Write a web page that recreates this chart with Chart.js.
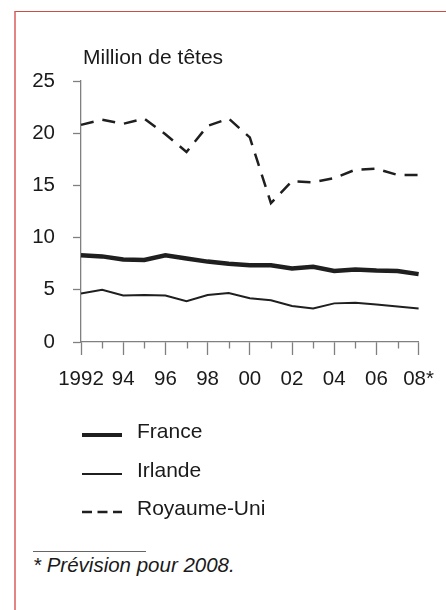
<!DOCTYPE html>
<html lang="fr">
<head>
  <meta charset="UTF-8" />
  <title>Cheptel ovin</title>
  <script src="https://cdn.jsdelivr.net/npm/chart.js"></script>
  <style>
    body {
      margin: 0;
      width: 446px;
      height: 610px;
      background: #fff;
      font-family: "Liberation Sans", Arial, sans-serif;
      position: relative;
      overflow: hidden;
    }
    #frame {
      position: absolute;
      left: 14px;
      top: 11px;
      width: 460px;
      height: 620px;
      border-top: 1.5px solid #cf4b45;
      border-left: 2px solid #e38585;
    }
    #chart-box {
      position: absolute;
      left: 0;
      top: 0;
      width: 446px;
      height: 540px;
    }
    #rule {
      position: absolute;
      left: 33px;
      top: 551px;
      width: 113px;
      border-top: 1px solid #666;
    }
    #note {
      position: absolute;
      left: 33px;
      top: 553px;
      font-size: 20.5px;
      line-height: 24px;
      font-style: italic;
      color: #1a1a1a;
    }
  </style>
</head>
<body>
  <div id="frame"></div>
  <div id="chart-box"><canvas id="sheepChart"></canvas></div>
  <div id="rule"></div>
  <div id="note">* Prévision pour 2008.</div>

  <script>
    // données (millions de têtes)
    const years = ['1992','1993','1994','1995','1996','1997','1998','1999','2000',
                   '2001','2002','2003','2004','2005','2006','2007','2008'];
    const tickLabels = ['1992','','94','','96','','98','','00','','02','','04','','06','','08*'];
    const france = [8.3, 8.2, 7.9, 7.85, 8.3, 8.0, 7.7, 7.5, 7.35, 7.35, 7.05, 7.2, 6.8, 6.95, 6.85, 6.8, 6.5];
    const irlande = [4.65, 5.0, 4.45, 4.5, 4.45, 3.9, 4.5, 4.7, 4.2, 4.0, 3.45, 3.2, 3.7, 3.75, 3.6, 3.4, 3.2];
    const royaumeUni = [20.8, 21.3, 20.9, 21.4, 19.9, 18.2, 20.7, 21.4, 19.6, 13.3, 15.4, 15.3, 15.7, 16.5, 16.6, 16.0, 16.0];

    const ink = '#1f1f1f';
    const axisGrey = '#808080';
    const font = '"Liberation Sans", Arial, sans-serif';

    // titre d'axe, petites graduations et légende
    const extras = {
      id: 'extras',
      afterDraw(chart) {
        const ctx = chart.ctx;
        const area = chart.chartArea;
        const xs = chart.scales.x;
        ctx.save();
        ctx.fillStyle = '#1a1a1a';
        ctx.font = '21px ' + font;
        ctx.textBaseline = 'alphabetic';
        ctx.fillText('Million de têtes', area.left + 2, 64);

        // graduations des années impaires
        ctx.strokeStyle = axisGrey;
        ctx.lineWidth = 1.3;
        xs.ticks.forEach((t, i) => {
          if (i % 2 === 1) {
            const px = Math.round(xs.getPixelForTick(i)) + 0.5;
            ctx.beginPath();
            ctx.moveTo(px, area.bottom);
            ctx.lineTo(px, area.bottom + 6.5);
            ctx.stroke();
          }
        });

        // légende verticale
        const rows = [435, 474, 512];
        chart.data.datasets.forEach((ds, i) => {
          const y = rows[i];
          ctx.strokeStyle = ds.borderColor;
          ctx.lineWidth = Math.min(ds.borderWidth, 4);
          ctx.setLineDash(ds.borderDash ? [10, 5.5] : []);
          ctx.beginPath();
          ctx.moveTo(area.left + 1, y);
          ctx.lineTo(area.left + 41, y);
          ctx.stroke();
          ctx.setLineDash([]);
          ctx.fillStyle = '#1a1a1a';
          ctx.fillText(ds.label, area.left + 56, y + 3);
        });
        ctx.restore();
      }
    };

    new Chart(document.getElementById('sheepChart'), {
      type: 'line',
      data: {
        labels: years,
        datasets: [
          { label: 'France', data: france, borderColor: ink, borderWidth: 4.5 },
          { label: 'Irlande', data: irlande, borderColor: ink, borderWidth: 2 },
          { label: 'Royaume-Uni', data: royaumeUni, borderColor: ink, borderWidth: 2.5, borderDash: [13, 9] }
        ]
      },
      options: {
        responsive: true,
        maintainAspectRatio: false,
        animation: false,
        layout: { padding: { left: 0, right: 24.3, top: 81, bottom: 148 } },
        elements: {
          point: { radius: 0 },
          line: { tension: 0, borderCapStyle: 'butt', borderJoinStyle: 'miter' }
        },
        plugins: {
          legend: { display: false },
          tooltip: { enabled: false }
        },
        scales: {
          x: {
            afterFit: s => { s.height = 50; },
            border: { color: axisGrey, width: 1.3 },
            grid: {
              drawOnChartArea: false,
              tickLength: 13,
              tickWidth: 1.3,
              tickColor: c => (c.index % 2 ? 'rgba(0,0,0,0)' : axisGrey)
            },
            ticks: {
              autoSkip: false,
              maxRotation: 0,
              padding: 12,
              color: '#1a1a1a',
              font: { size: 20.5, family: font },
              callback: (v, i) => tickLabels[i]
            }
          },
          y: {
            min: 0,
            max: 25,
            afterFit: s => { s.width = 81; },
            border: { color: axisGrey, width: 1.3 },
            grid: {
              drawOnChartArea: false,
              tickLength: 8,
              tickWidth: 1.3,
              tickColor: axisGrey
            },
            ticks: {
              stepSize: 5,
              padding: 18,
              color: '#1a1a1a',
              font: { size: 20.5, family: font }
            }
          }
        }
      },
      plugins: [extras]
    });
  </script>
</body>
</html>
